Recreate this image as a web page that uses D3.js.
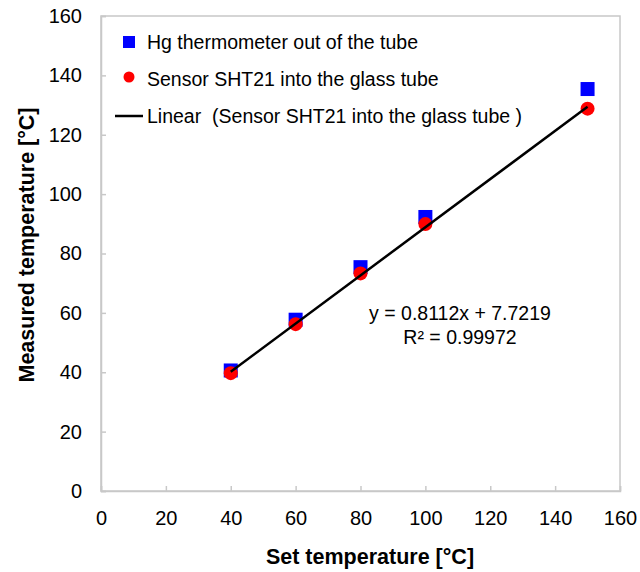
<!DOCTYPE html>
<html>
<head>
<meta charset="utf-8">
<script src="https://cdn.jsdelivr.net/npm/d3@7"></script>
<style>
  body { margin: 0; background: #fff; }
  text { font-family: "Liberation Sans", Arial, sans-serif; }
</style>
</head>
<body>
<div id="chart"></div>
<script>
var setTemp = [40, 60, 80, 100, 150];
var hgValues = [40.6, 57.7, 75.4, 92.3, 135.4];
var sensorValues = [39.7, 56.2, 73.3, 89.9, 128.8];
var xTicks = [0, 20, 40, 60, 80, 100, 120, 140, 160];
var yTicks = [0, 20, 40, 60, 80, 100, 120, 140, 160];
var slope = 0.8112, intercept = 7.7219;

var margin = {top: 16, right: 20, bottom: 81, left: 101};
var width = 640 - margin.left - margin.right;
var height = 572 - margin.top - margin.bottom;

var svg = d3.select("#chart")
  .append("svg")
  .attr("width", 640)
  .attr("height", 572)
  .append("g")
  .attr("transform", "translate(" + margin.left + "," + margin.top + ")");

var x = d3.scaleLinear().domain([0, 160]).range([0, width]);
var y = d3.scaleLinear().domain([0, 160]).range([height, 0]);

// plot frame
svg.append("rect")
  .attr("width", width)
  .attr("height", height)
  .attr("fill", "none")
  .attr("stroke", "#c8c8c8")
  .attr("stroke-width", 1.5);

// X axis
var xAxis = svg.append("g")
  .attr("transform", "translate(0," + height + ")")
  .call(d3.axisBottom(x).tickValues(xTicks).tickSize(-5).tickPadding(20));
xAxis.select(".domain").attr("stroke", "#c8c8c8").attr("stroke-width", 1.5);
xAxis.selectAll(".tick line").attr("stroke", "#c8c8c8").attr("stroke-width", 1.5);
xAxis.selectAll("text").attr("font-size", 20).attr("fill", "#000")
  .style("font-family", "Liberation Sans, Arial, sans-serif");

// Y axis
var yAxis = svg.append("g")
  .call(d3.axisLeft(y).tickValues(yTicks).tickSize(-5).tickPadding(19));
yAxis.select(".domain").attr("stroke", "#c8c8c8").attr("stroke-width", 1.5);
yAxis.selectAll(".tick line").attr("stroke", "#c8c8c8").attr("stroke-width", 1.5);
yAxis.selectAll("text").attr("font-size", 20).attr("fill", "#000")
  .style("font-family", "Liberation Sans, Arial, sans-serif");

// axis titles
svg.append("text")
  .attr("x", 370 - margin.left)
  .attr("y", 564 - margin.top)
  .attr("text-anchor", "middle")
  .attr("font-size", 21.5)
  .attr("font-weight", "bold")
  .text("Set temperature [°C]");

svg.append("text")
  .attr("transform", "translate(" + (34 - margin.left) + "," + (245 - margin.top) + ") rotate(-90)")
  .attr("text-anchor", "middle")
  .attr("font-size", 21.5)
  .attr("font-weight", "bold")
  .text("Measured temperature [°C]");

// Hg squares
svg.selectAll(".hg")
  .data(setTemp)
  .enter()
  .append("rect")
  .attr("class", "hg")
  .attr("x", function(d) { return x(d) - 7; })
  .attr("y", function(d, i) { return y(hgValues[i]) - 7; })
  .attr("width", 14)
  .attr("height", 14)
  .attr("fill", "#0000ff");

// Sensor circles
svg.selectAll(".sensor")
  .data(setTemp)
  .enter()
  .append("circle")
  .attr("class", "sensor")
  .attr("cx", function(d) { return x(d); })
  .attr("cy", function(d, i) { return y(sensorValues[i]); })
  .attr("r", 7)
  .attr("fill", "#ff0000");

// Linear trend
var xMin = d3.min(setTemp), xMax = d3.max(setTemp);
svg.append("path")
  .datum([xMin, xMax])
  .attr("fill", "none")
  .attr("stroke", "#000")
  .attr("stroke-width", 2.5)
  .attr("d", d3.line()
    .x(function(d) { return x(d); })
    .y(function(d) { return y(slope * d + intercept); })
  );

// Equation
svg.append("text")
  .attr("x", 460 - margin.left).attr("y", 320 - margin.top)
  .attr("text-anchor", "middle").attr("font-size", 19.5)
  .text("y = 0.8112x + 7.7219");
svg.append("text")
  .attr("x", 460 - margin.left).attr("y", 344 - margin.top)
  .attr("text-anchor", "middle").attr("font-size", 19.5)
  .text("R² = 0.99972");

// Legend
var lg = svg.append("g").attr("transform", "translate(" + (-margin.left) + "," + (-margin.top) + ")");
lg.append("rect").attr("x", 123).attr("y", 36).attr("width", 12).attr("height", 12).attr("fill", "#0000ff");
lg.append("circle").attr("cx", 129).attr("cy", 77).attr("r", 5.5).attr("fill", "#ff0000");
lg.append("line").attr("x1", 115).attr("x2", 143).attr("y1", 116).attr("y2", 116)
  .attr("stroke", "#000").attr("stroke-width", 2.5);
lg.append("text").attr("x", 147).attr("y", 49).attr("font-size", 19.5).text("Hg thermometer out of the tube");
lg.append("text").attr("x", 147).attr("y", 86).attr("font-size", 19.5).text("Sensor SHT21 into the glass tube");
lg.append("text").attr("x", 147).attr("y", 123).attr("font-size", 19.5).attr("xml:space", "preserve")
  .style("white-space", "pre")
  .text("Linear  (Sensor SHT21 into the glass tube )");
</script>
</body>
</html>
